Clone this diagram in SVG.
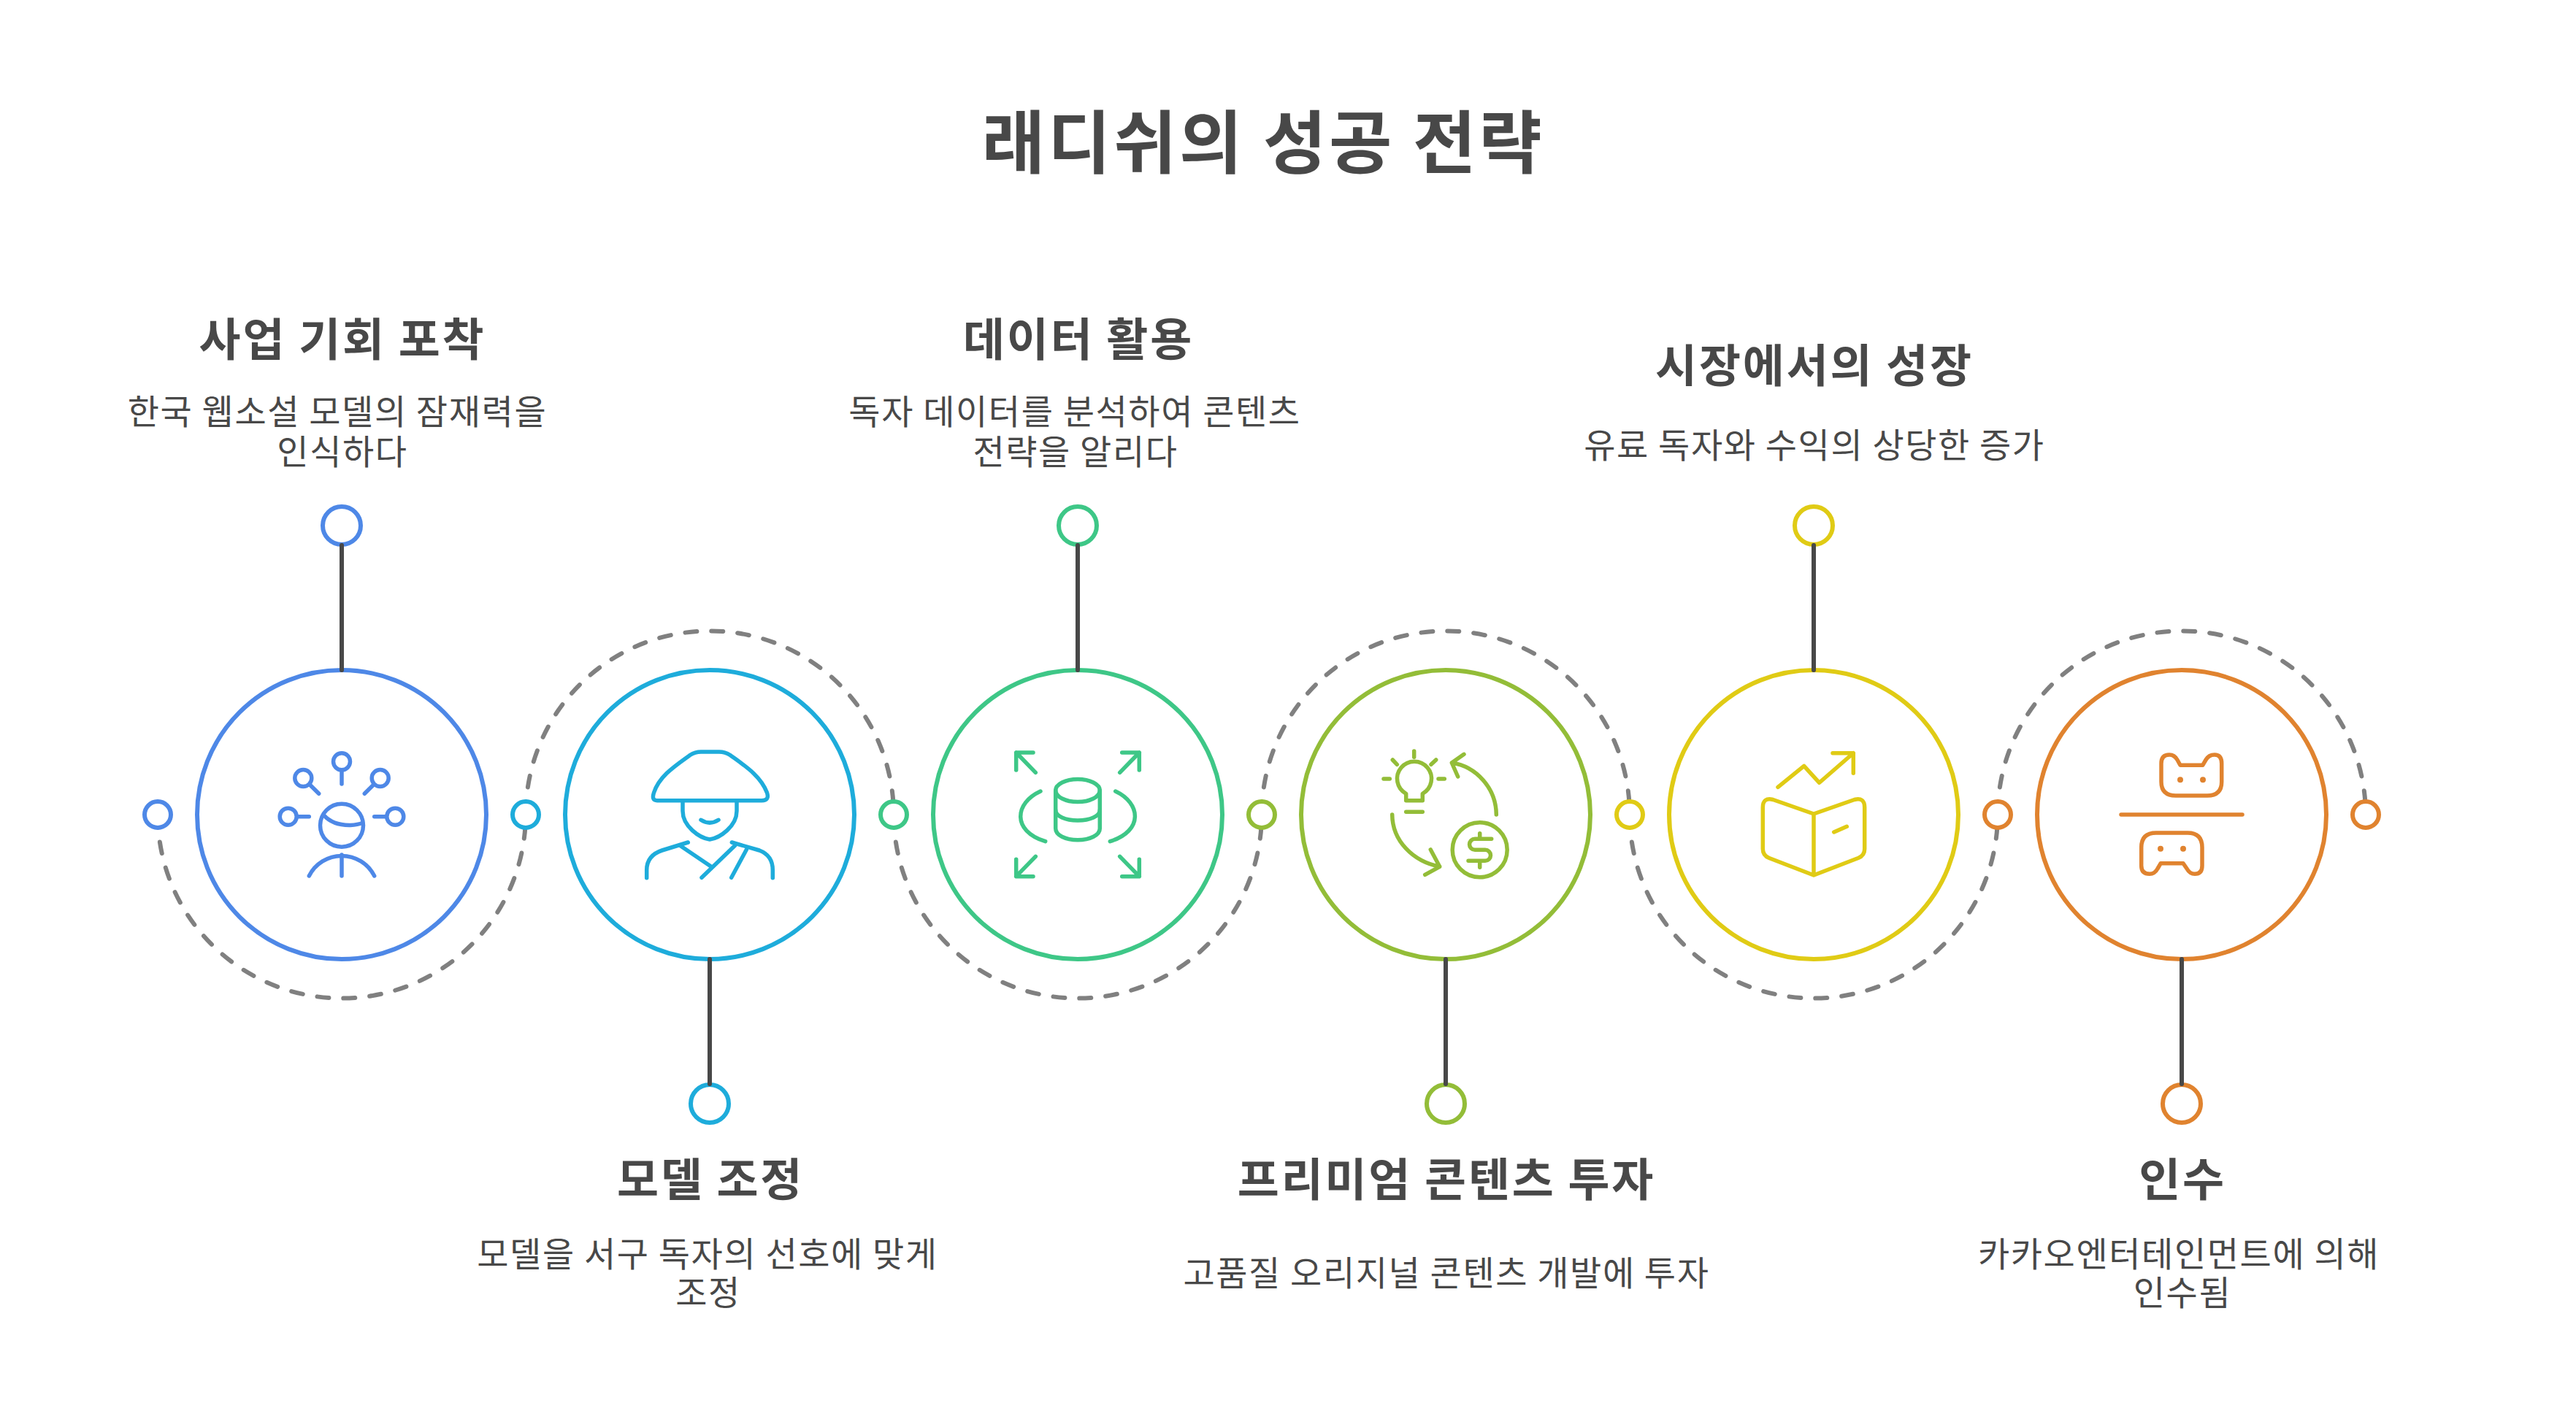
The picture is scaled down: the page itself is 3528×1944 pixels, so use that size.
<svg xmlns="http://www.w3.org/2000/svg" width="3528" height="1944" viewBox="0 0 3528 1944">
<style>
text{font-family:"Noto Sans CJK KR","Noto Sans",sans-serif;fill:#484848;text-anchor:middle}
.t{font-size:94px;font-weight:700;letter-spacing:3.6px}
.h{font-size:62px;font-weight:700;letter-spacing:2.8px}
.b{font-size:47px;font-weight:400;letter-spacing:1.6px}
.ring{fill:#fff;stroke-width:6}
.pin{fill:#fff;stroke-width:6}
.ic{fill:none;stroke-width:5.5;stroke-linecap:round;stroke-linejoin:round}
.stem{stroke:#484848;stroke-width:6;stroke-linecap:round;fill:none}
.dash{fill:none;stroke:#808080;stroke-width:6;stroke-linecap:round;stroke-dasharray:16 20}
.c1{stroke:#4E88E7}.c2{stroke:#1EACDB}.c3{stroke:#3EC787}.c4{stroke:#93BD38}.c5{stroke:#E0CB15}.c6{stroke:#E0832F}
.f6{fill:#E0832F}
</style>
<rect width="3528" height="1944" fill="#fff"/>
<text class="t" x="1730" y="230">래디쉬의 성공 전략</text>
<g id="connectors">
<path class="dash" d="M719.4 1133A252 252 0 0 1 216.6 1133"/>
<path class="dash" d="M1223.4 1099A252 252 0 0 0 720.6 1099"/>
<path class="dash" d="M1727.4 1133A252 252 0 0 1 1224.6 1133"/>
<path class="dash" d="M2231.4 1099A252 252 0 0 0 1728.6 1099"/>
<path class="dash" d="M2735.4 1133A252 252 0 0 1 2232.6 1133"/>
<path class="dash" d="M3239.4 1099A252 252 0 0 0 2736.6 1099"/>
</g>
<g id="node1">
<circle class="ring c1" cx="468" cy="1116" r="198"/>
<circle class="pin c1" cx="216" cy="1116" r="18"/>
<circle class="pin c1" cx="468" cy="720" r="26"/>
<path class="stem" d="M468 747V918"/>
<g class="ic c1">
<circle cx="468" cy="1043.3" r="11.5"/><path d="M468 1055V1074"/>
<circle cx="415.3" cy="1066" r="11.5"/><path d="M424.3 1075L436.7 1087.3"/>
<circle cx="520.7" cy="1066" r="11.5"/><path d="M511.7 1075L499.3 1087.3"/>
<circle cx="394.7" cy="1118.7" r="11.5"/><path d="M408.3 1118.7H423.3"/>
<circle cx="541.3" cy="1118.7" r="11.5"/><path d="M527.7 1118.7H512.7"/>
<circle cx="468" cy="1130.7" r="29.5"/>
<path d="M443.3 1116.7Q456 1131 480 1130.5Q490 1130 496.7 1127.3"/>
<path d="M423.3 1200A50 50 0 0 1 512.7 1200M468 1171V1200"/>
</g>
<text class="h" x="469" y="488">사업 기회 포착</text>
<text class="b" x="462" y="581">한국 웹소설 모델의 잠재력을</text>
<text class="b" x="469" y="636">인식하다</text>
</g>
<g id="node2">
<circle class="ring c2" cx="972" cy="1116" r="198"/>
<circle class="pin c2" cx="720" cy="1116" r="18"/>
<circle class="pin c2" cx="972" cy="1512" r="26"/>
<path class="stem" d="M972 1314V1485"/>
<g class="ic c2">
<path d="M900 1096.7H1043.3Q1054 1096.7 1050.5 1086C1042 1063 1020 1049 1000 1034.5Q993 1030 985 1030H960Q952 1030 945 1034.5C925 1049 903 1063 895.5 1086Q892 1096.7 900 1096.7Z"/>
<path d="M935 1096.7V1111C935 1132 958 1148 972 1150C986 1148 1009 1132 1009 1111V1096.7"/>
<path d="M960 1123.3Q972 1131 984 1123.3"/>
<path d="M942.3 1154L906.7 1165Q885.7 1172 885.7 1192V1202.7"/>
<path d="M1002.3 1154L1040 1165Q1058.3 1172 1058.3 1192V1202.7"/>
<path d="M932.3 1159L973.3 1186.7M1006.7 1158.3L961 1202.3M1022.3 1164L1001.7 1202.3"/>
</g>
<text class="h" x="973" y="1639">모델 조정</text>
<text class="b" x="969" y="1735">모델을 서구 독자의 선호에 맞게</text>
<text class="b" x="970" y="1788">조정</text>
</g>
<g id="node3">
<circle class="ring c3" cx="1476" cy="1116" r="198"/>
<circle class="pin c3" cx="1224" cy="1116" r="18"/>
<circle class="pin c3" cx="1476" cy="720" r="26"/>
<path class="stem" d="M1476 747V918"/>
<g class="ic c3">
<path d="M1415 1031H1391.7V1055M1391.7 1031L1418.3 1058.3"/>
<path d="M1536.7 1031H1560.3V1055M1560.3 1031L1533.7 1058.3"/>
<path d="M1415 1200.7H1391.7V1177.3M1391.7 1200.7L1418.3 1173.3"/>
<path d="M1536.7 1200.7H1560.3V1177.3M1560.3 1200.7L1533.7 1173.3"/>
<ellipse cx="1476" cy="1083" rx="30.3" ry="15.5"/>
<path d="M1445.7 1083V1135C1445.7 1144 1459 1150.7 1476 1150.7C1493 1150.7 1506.3 1144 1506.3 1135V1083"/>
<path d="M1445.7 1110C1445.7 1118 1459 1124 1476 1124C1493 1124 1506.3 1118 1506.3 1110"/>
<path d="M1425 1084C1390 1100 1385 1138 1431.7 1152.7"/>
<path d="M1527.7 1084C1562 1100 1567 1138 1520.3 1152.7"/>
</g>
<text class="h" x="1477" y="488">데이터 활용</text>
<text class="b" x="1472" y="581">독자 데이터를 분석하여 콘텐츠</text>
<text class="b" x="1473" y="636">전략을 알리다</text>
</g>
<g id="node4">
<circle class="ring c4" cx="1980" cy="1116" r="198"/>
<circle class="pin c4" cx="1728" cy="1116" r="18"/>
<circle class="pin c4" cx="1980" cy="1512" r="26"/>
<path class="stem" d="M1980 1314V1485"/>
<g class="ic c4">
<path d="M1925.7 1087.3A23.5 23.5 0 1 1 1948.3 1087.3V1096.7H1925.7Z"/>
<path d="M1925.7 1112.3H1948.3M1936.7 1029V1037.3M1907.3 1041L1913.3 1047.3M1966.7 1041L1960 1047.3M1895 1067H1903.3M1970 1067H1978.3"/>
<path d="M2049.3 1116C2049 1080 2022 1050 1988.3 1045M2005 1033.3L1988.3 1045L1996.7 1064"/>
<path d="M1906.7 1116C1907 1152 1935 1180 1971.7 1187.3M1959.3 1164L1971.7 1187.3L1951.7 1198.3"/>
<circle cx="2026.7" cy="1164.3" r="37.5"/>
<path d="M2042.7 1149.3H2020A7.5 7.5 0 0 0 2020 1164.3H2034A7.5 7.5 0 0 1 2034 1179.3H2011M2026.7 1141.7V1149.3M2026.7 1179.3V1188.3"/>
</g>
<text class="h" x="1981" y="1639">프리미엄 콘텐츠 투자</text>
<text class="b" x="1981" y="1761">고품질 오리지널 콘텐츠 개발에 투자</text>
</g>
<g id="node5">
<circle class="ring c5" cx="2484" cy="1116" r="198"/>
<circle class="pin c5" cx="2232" cy="1116" r="18"/>
<circle class="pin c5" cx="2484" cy="720" r="26"/>
<path class="stem" d="M2484 747V918"/>
<g class="ic c5">
<path d="M2435 1078.3L2470.7 1049.3L2491.7 1072.3L2538.3 1031.7M2510 1031.7H2538.3V1059.3"/>
<path d="M2484 1115L2428.3 1095.5Q2414.3 1092 2414.3 1106V1163Q2414.3 1172 2423 1175.5L2484 1199L2545 1175.5Q2553.7 1172 2553.7 1163V1106Q2553.7 1092 2539.7 1095.5ZM2484 1115V1199"/>
<path d="M2511.7 1140L2529.3 1132.3"/>
</g>
<text class="h" x="2485" y="524">시장에서의 성장</text>
<text class="b" x="2485" y="627">유료 독자와 수익의 상당한 증가</text>
</g>
<g id="node6">
<circle class="ring c6" cx="2988" cy="1116" r="198"/>
<circle class="pin c6" cx="2736" cy="1116" r="18"/>
<circle class="pin c6" cx="3240" cy="1116" r="18"/>
<circle class="pin c6" cx="2988" cy="1512" r="26"/>
<path class="stem" d="M2988 1314V1485"/>
<g class="ic c6">
<path d="M2905 1116H3071"/>
<path d="M2986 1048.3H3016.7L3021 1041Q3025 1034 3033 1034Q3042.7 1034 3042.7 1046V1071Q3042.7 1090 3023 1090H2980Q2960 1090 2960 1071V1046Q2960 1034 2971 1034Q2978 1034 2982 1041Z"/>
<path d="M2959.3 1182.7H2990L2995 1190Q2999 1197.3 3006 1197.3Q3016 1197.3 3016 1186V1161Q3016 1141 2996 1141H2953Q2932.7 1141 2932.7 1161V1186Q2932.7 1197.3 2944 1197.3Q2951 1197.3 2955 1190Z"/>
</g>
<circle class="f6" cx="2986" cy="1068.3" r="4"/><circle class="f6" cx="3017" cy="1068.3" r="4"/>
<circle class="f6" cx="2959" cy="1162.7" r="4"/><circle class="f6" cx="2990" cy="1162.7" r="4"/>
<text class="h" x="2989" y="1639">인수</text>
<text class="b" x="2984" y="1735">카카오엔터테인먼트에 의해</text>
<text class="b" x="2989" y="1788">인수됨</text>
</g>
</svg>
